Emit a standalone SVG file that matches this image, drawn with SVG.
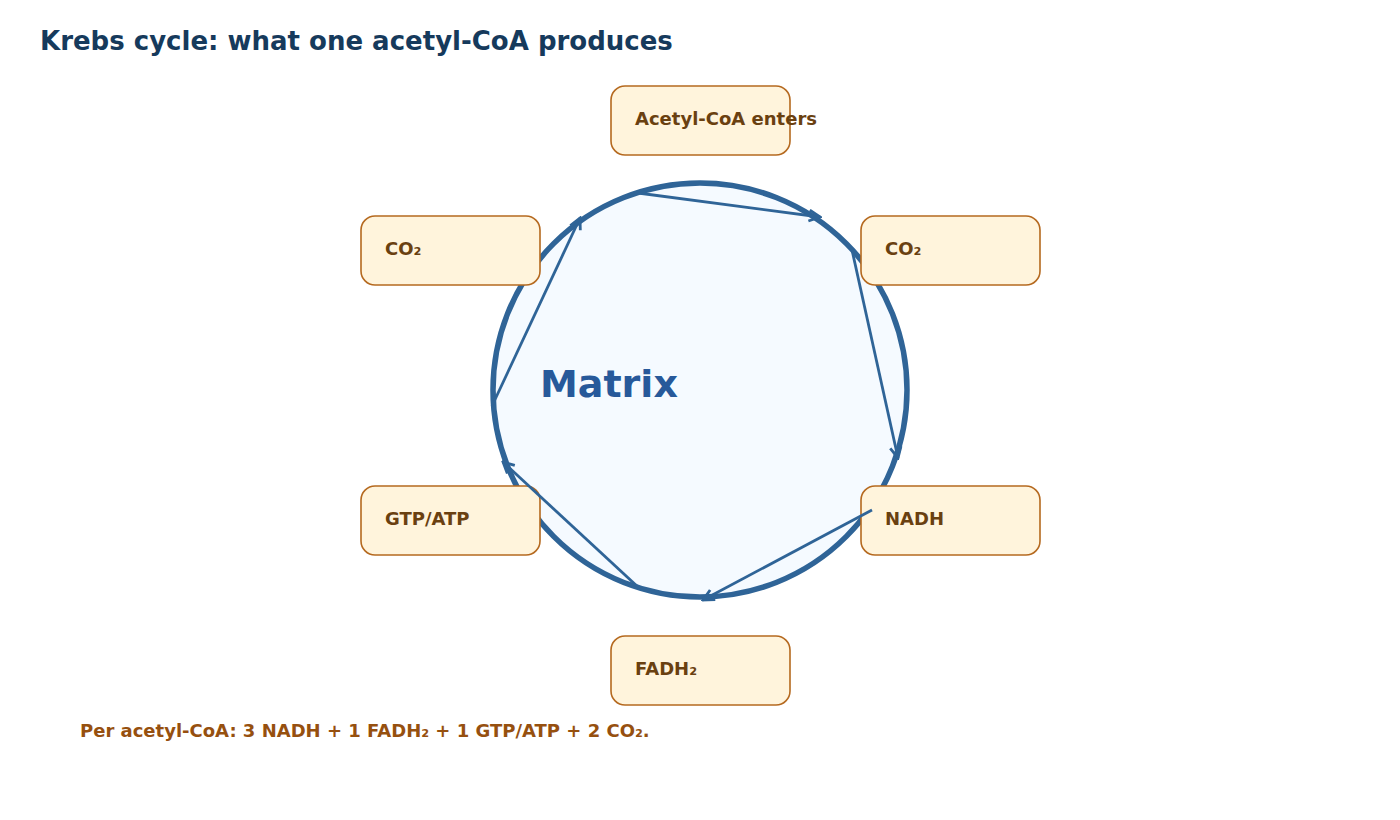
<svg xmlns="http://www.w3.org/2000/svg" width="1400" height="820" viewBox="0 0 1400 820">
<style>
.box{fill:#fff4dc;stroke:#b5691f;stroke-width:1.6}
.lbl{font-family:"DejaVu Sans",sans-serif;font-weight:bold;font-size:18px;fill:#6a4010}
.chord{fill:none;stroke:#2f6497;stroke-width:2.8}
</style>
<defs>
<marker id="arr" viewBox="0 0 14 14" refX="12" refY="7" markerWidth="14" markerHeight="14" markerUnits="userSpaceOnUse" orient="auto">
<path d="M1,1.5 L12,7 L1,12.5" fill="none" stroke="#2f6497" stroke-width="2.8"/>
</marker>
</defs>
<rect width="1400" height="820" fill="#ffffff"/>
<text x="40" y="50" font-family="DejaVu Sans, sans-serif" font-weight="bold" font-size="26" fill="#163a5c">Krebs cycle: what one acetyl-CoA produces</text>
<g id="matrix">
<circle cx="700" cy="390" r="207" fill="#f5faff" stroke="#2f6497" stroke-width="5.5"/>
<text x="540" y="397" font-family="DejaVu Sans, sans-serif" font-weight="bold" font-size="38" fill="#27599a">Matrix</text>
</g>
<g id="acetyl"><rect class="box" x="611" y="86" width="179" height="69" rx="14"/><text class="lbl" x="635" y="125">Acetyl-CoA enters</text></g>
<g id="co2right"><rect class="box" x="861" y="216" width="179" height="69" rx="14"/><text class="lbl" x="885" y="255">CO₂</text></g>
<g id="nadh"><rect class="box" x="861" y="486" width="179" height="69" rx="14"/><text class="lbl" x="885" y="525">NADH</text></g>
<g id="fadh2"><rect class="box" x="611" y="636" width="179" height="69" rx="14"/><text class="lbl" x="635" y="675">FADH₂</text></g>
<g id="gtp"><rect class="box" x="361" y="486" width="179" height="69" rx="14"/><text class="lbl" x="385" y="525">GTP/ATP</text></g>
<g id="co2left"><rect class="box" x="361" y="216" width="179" height="69" rx="14"/><text class="lbl" x="385" y="255">CO₂</text></g>
<g id="connectors">
<line class="chord" x1="638" y1="193" x2="820" y2="217" marker-end="url(#arr)"/>
<line class="chord" x1="852" y1="250" x2="898" y2="458" marker-end="url(#arr)"/>
<line class="chord" x1="872" y1="510" x2="703" y2="600" marker-end="url(#arr)"/>
<line class="chord" x1="638" y1="587" x2="503" y2="462" marker-end="url(#arr)"/>
<line class="chord" x1="492" y1="406" x2="580" y2="218" marker-end="url(#arr)"/>
</g>
<text x="80" y="737" font-family="DejaVu Sans, sans-serif" font-weight="bold" font-size="18" fill="#96500f">Per acetyl-CoA: 3 NADH + 1 FADH₂ + 1 GTP/ATP + 2 CO₂.</text>
</svg>
